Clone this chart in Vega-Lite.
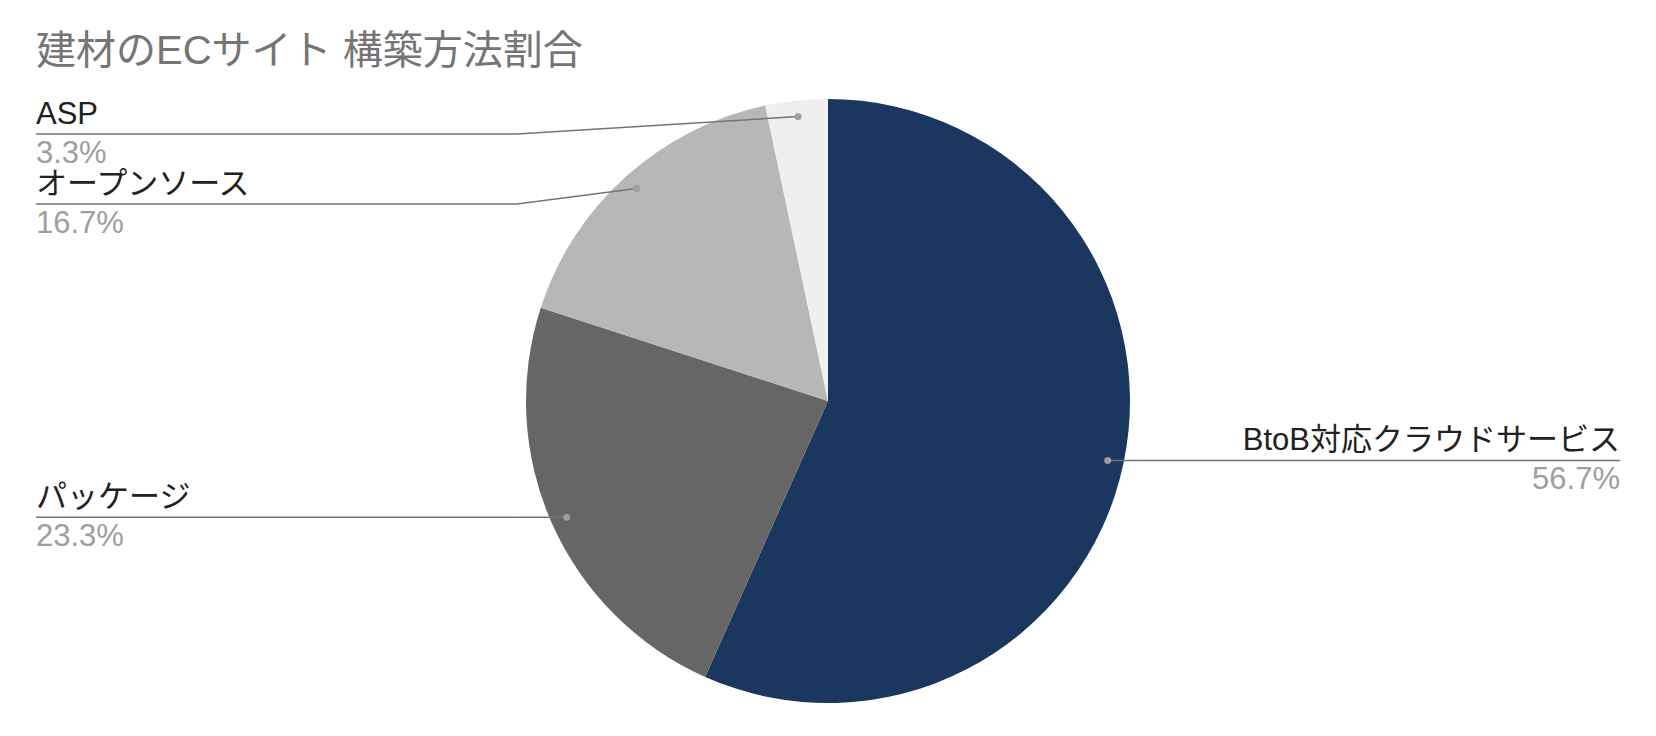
{
  "$schema": "https://vega.github.io/schema/vega-lite/v6.json",
  "width": 1656,
  "height": 736,
  "padding": 0,
  "autosize": "none",
  "background": "#ffffff",
  "title": {
    "text": "建材のECサイト 構築方法割合",
    "anchor": "start",
    "frame": "group",
    "fontSize": 40,
    "fontWeight": "normal",
    "color": "#757575",
    "offset": 0,
    "baseline": "alphabetic",
    "dx": 36,
    "dy": 104
  },
  "config": {
    "font": "Liberation Sans, Noto Sans CJK JP, sans-serif",
    "view": {"stroke": null}
  },
  "data": {
    "values": [
      {"category": "BtoB対応クラウドサービス", "value": 17},
      {"category": "パッケージ", "value": 7},
      {"category": "オープンソース", "value": 5},
      {"category": "ASP", "value": 1}
    ]
  },
  "transform": [
    {"window": [{"op": "row_number", "as": "idx"}]},
    {"joinaggregate": [{"op": "sum", "field": "value", "as": "total"}]},
    {"stack": "value", "groupby": [], "sort": [{"field": "idx"}], "as": ["v0", "v1"]},
    {"calculate": "datum.value / datum.total", "as": "share"},
    {"calculate": "PI * (datum.v0 + datum.v1) / datum.total", "as": "mid"},
    {"calculate": "0.947 * sin(datum.mid)", "as": "dotX"},
    {"calculate": "0.947 * cos(datum.mid)", "as": "dotY"},
    {"calculate": "datum.mid < PI ? 1 : -1", "as": "side"},
    {"window": [{"op": "row_number", "as": "slot"}], "groupby": ["side"], "sort": [{"field": "dotY", "order": "descending"}]},
    {"calculate": "min(datum.dotY, 0.884 - 0.232 * (datum.slot - 1))", "as": "labelY"},
    {"calculate": "datum.side * 1.03", "as": "elbowX"},
    {"calculate": "datum.side * 2.6225", "as": "edgeX"}
  ],
  "layer": [
    {
      "mark": {"type": "arc", "radius": 302},
      "encoding": {
        "x": {"datum": 0, "type": "quantitative", "scale": {"domain": [-2.7417, 2.7417], "nice": false, "zero": false}, "axis": null},
        "y": {"datum": 0, "type": "quantitative", "scale": {"domain": [-1.1093, 1.3278], "nice": false, "zero": false}, "axis": null},
        "theta": {"field": "value", "type": "quantitative", "stack": true},
        "order": {"field": "idx", "type": "quantitative"},
        "color": {
          "field": "category",
          "type": "nominal",
          "scale": {
            "domain": ["BtoB対応クラウドサービス", "パッケージ", "オープンソース", "ASP"],
            "range": ["#1b365f", "#666666", "#b7b7b7", "#efefef"]
          },
          "legend": null
        }
      }
    },
    {
      "mark": {"type": "rule", "color": "#757575", "strokeWidth": 1.5},
      "encoding": {
        "x": {"field": "dotX", "type": "quantitative", "scale": {"domain": [-2.7417, 2.7417], "nice": false, "zero": false}, "axis": null},
        "y": {"field": "dotY", "type": "quantitative", "scale": {"domain": [-1.1093, 1.3278], "nice": false, "zero": false}, "axis": null},
        "x2": {"field": "elbowX"},
        "y2": {"field": "labelY"}
      }
    },
    {
      "mark": {"type": "rule", "color": "#757575", "strokeWidth": 1.5},
      "encoding": {
        "x": {"field": "elbowX", "type": "quantitative", "scale": {"domain": [-2.7417, 2.7417], "nice": false, "zero": false}, "axis": null},
        "y": {"field": "labelY", "type": "quantitative", "scale": {"domain": [-1.1093, 1.3278], "nice": false, "zero": false}, "axis": null},
        "x2": {"field": "edgeX"}
      }
    },
    {
      "mark": {"type": "point", "filled": true, "size": 50, "color": "#9e9e9e", "opacity": 1},
      "encoding": {
        "x": {"field": "dotX", "type": "quantitative", "scale": {"domain": [-2.7417, 2.7417], "nice": false, "zero": false}, "axis": null},
        "y": {"field": "dotY", "type": "quantitative", "scale": {"domain": [-1.1093, 1.3278], "nice": false, "zero": false}, "axis": null}
      }
    },
    {
      "transform": [{"filter": "datum.side < 0"}],
      "mark": {"type": "text", "align": "left", "baseline": "alphabetic", "dy": -10, "fontSize": 31, "color": "#212121"},
      "encoding": {
        "x": {"field": "edgeX", "type": "quantitative", "scale": {"domain": [-2.7417, 2.7417], "nice": false, "zero": false}, "axis": null},
        "y": {"field": "labelY", "type": "quantitative", "scale": {"domain": [-1.1093, 1.3278], "nice": false, "zero": false}, "axis": null},
        "text": {"field": "category"}
      }
    },
    {
      "transform": [{"filter": "datum.side < 0"}],
      "mark": {"type": "text", "align": "left", "baseline": "alphabetic", "dy": 29, "fontSize": 31, "color": "#9e9e9e"},
      "encoding": {
        "x": {"field": "edgeX", "type": "quantitative", "scale": {"domain": [-2.7417, 2.7417], "nice": false, "zero": false}, "axis": null},
        "y": {"field": "labelY", "type": "quantitative", "scale": {"domain": [-1.1093, 1.3278], "nice": false, "zero": false}, "axis": null},
        "text": {"field": "share", "format": ".1%"}
      }
    },
    {
      "transform": [{"filter": "datum.side > 0"}],
      "mark": {"type": "text", "align": "right", "baseline": "alphabetic", "dy": -10, "fontSize": 31, "color": "#212121"},
      "encoding": {
        "x": {"field": "edgeX", "type": "quantitative", "scale": {"domain": [-2.7417, 2.7417], "nice": false, "zero": false}, "axis": null},
        "y": {"field": "labelY", "type": "quantitative", "scale": {"domain": [-1.1093, 1.3278], "nice": false, "zero": false}, "axis": null},
        "text": {"field": "category"}
      }
    },
    {
      "transform": [{"filter": "datum.side > 0"}],
      "mark": {"type": "text", "align": "right", "baseline": "alphabetic", "dy": 29, "fontSize": 31, "color": "#9e9e9e"},
      "encoding": {
        "x": {"field": "edgeX", "type": "quantitative", "scale": {"domain": [-2.7417, 2.7417], "nice": false, "zero": false}, "axis": null},
        "y": {"field": "labelY", "type": "quantitative", "scale": {"domain": [-1.1093, 1.3278], "nice": false, "zero": false}, "axis": null},
        "text": {"field": "share", "format": ".1%"}
      }
    }
  ]
}
